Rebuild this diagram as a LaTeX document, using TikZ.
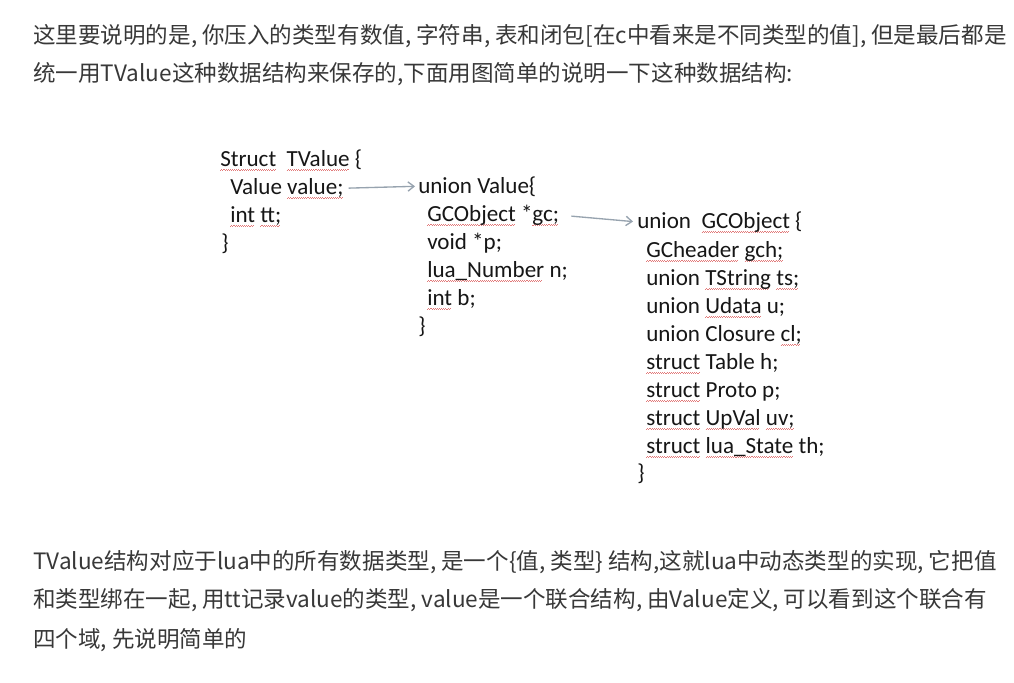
\documentclass[tikz,border=0pt]{standalone}
\usepackage{fontspec}
\usetikzlibrary{positioning, arrows.meta}

\newfontfamily\codefont{Carlito}
\newfontfamily\cnfont{Noto Sans CJK SC}

\definecolor{paraink}{HTML}{383838}
\definecolor{codeink}{HTML}{161616}
\definecolor{squig}{HTML}{E27A7A}
\definecolor{pointer}{HTML}{97A3AF}

% red spell-check wave under a word
\newsavebox\sqbox
\newcommand\sq[1]{\sbox\sqbox{#1}\rlap{\hbox to\wd\sqbox{\color{squig}\leaders\hbox{\rule[-3.4pt]{0.8pt}{0.5pt}\rule[-2.9pt]{0.8pt}{0.5pt}}\hfill}}\usebox\sqbox}

\tikzset{
  codeline/.style={anchor=base west, inner sep=0pt, text=codeink,
    font=\codefont\fontsize{17.3}{20}\selectfont},
  paraline/.style={anchor=base west, inner sep=0pt, text=paraink,
    font=\cnfont\fontsize{16.9}{20}\selectfont},
  ptr/.style={-{Straight Barb[length=4.5pt, width=7pt]}, pointer, line width=1pt}
}

\begin{document}
\begin{tikzpicture}[x=0.75pt, y=-0.75pt]
\fill[white] (0,0) rectangle (1014,682);
\useasboundingbox (0,0) rectangle (1014,682);

\node[paraline] (top1) at (33, 43) {这里要说明的是, 你压入的类型有数值, 字符串, 表和闭包[在c中看来是不同类型的值], 但是最后都是};
\node[paraline] (top2) at (33, 81) {统一用TValue这种数据结构来保存的,下面用图简单的说明一下这种数据结构:};

% struct TValue
\node[codeline] (tv1) at (220, 166) {\sq{Struct}\ \ \sq{TValue} \{};
\node[codeline] (tv2) at (230, 194) {Value \sq{value;}};
\node[codeline] (tv3) at (230, 222) {\sq{int} \sq{tt;}};
\node[codeline] (tv4) at (221, 250) {\}};

% union Value
\node[codeline] (val1) at (418, 193) {union Value\{};
\node[codeline] (val2) at (427, 221) {\sq{GCObject} *\sq{gc;}};
\node[codeline] (val3) at (427, 249) {void *p;};
\node[codeline] (val4) at (427, 277) {\sq{lua\_Number} n;};
\node[codeline] (val5) at (427, 305) {\sq{int} b;};
\node[codeline] (val6) at (418, 333) {\}};

% union GCObject
\node[codeline] (gco1) at (637, 228) {union\ \ \sq{GCObject} \{};
\node[codeline] (gco2) at (646, 257) {\sq{GCheader} \sq{gch;}};
\node[codeline] (gco3) at (646, 285) {union \sq{TString} \sq{ts;}};
\node[codeline] (gco4) at (646, 313) {union \sq{Udata} u;};
\node[codeline] (gco5) at (646, 341) {union Closure \sq{cl;}};
\node[codeline] (gco6) at (646, 369) {\sq{struct} Table h;};
\node[codeline] (gco7) at (646, 397) {\sq{struct} Proto p;};
\node[codeline] (gco8) at (646, 425) {\sq{struct} \sq{UpVal} \sq{uv;}};
\node[codeline] (gco9) at (646, 453) {\sq{struct} \sq{lua\_State} th;};
\node[codeline] (gco10) at (637, 480) {\}};

\draw[ptr, shorten <=3.75pt, shorten >=2.25pt] (tv2.east) -- (val1.west);
\draw[ptr, shorten <=9pt, shorten >=3pt] (val2.east) -- (gco1.west);

\node[paraline] (bot1) at (33, 569) {TValue结构对应于lua中的所有数据类型, 是一个\{值, 类型\} 结构,这就lua中动态类型的实现, 它把值};
\node[paraline] (bot2) at (33, 607) {和类型绑在一起, 用tt记录value的类型, value是一个联合结构, 由Value定义, 可以看到这个联合有};
\node[paraline] (bot3) at (33, 647) {四个域, 先说明简单的};

\end{tikzpicture}
\end{document}
